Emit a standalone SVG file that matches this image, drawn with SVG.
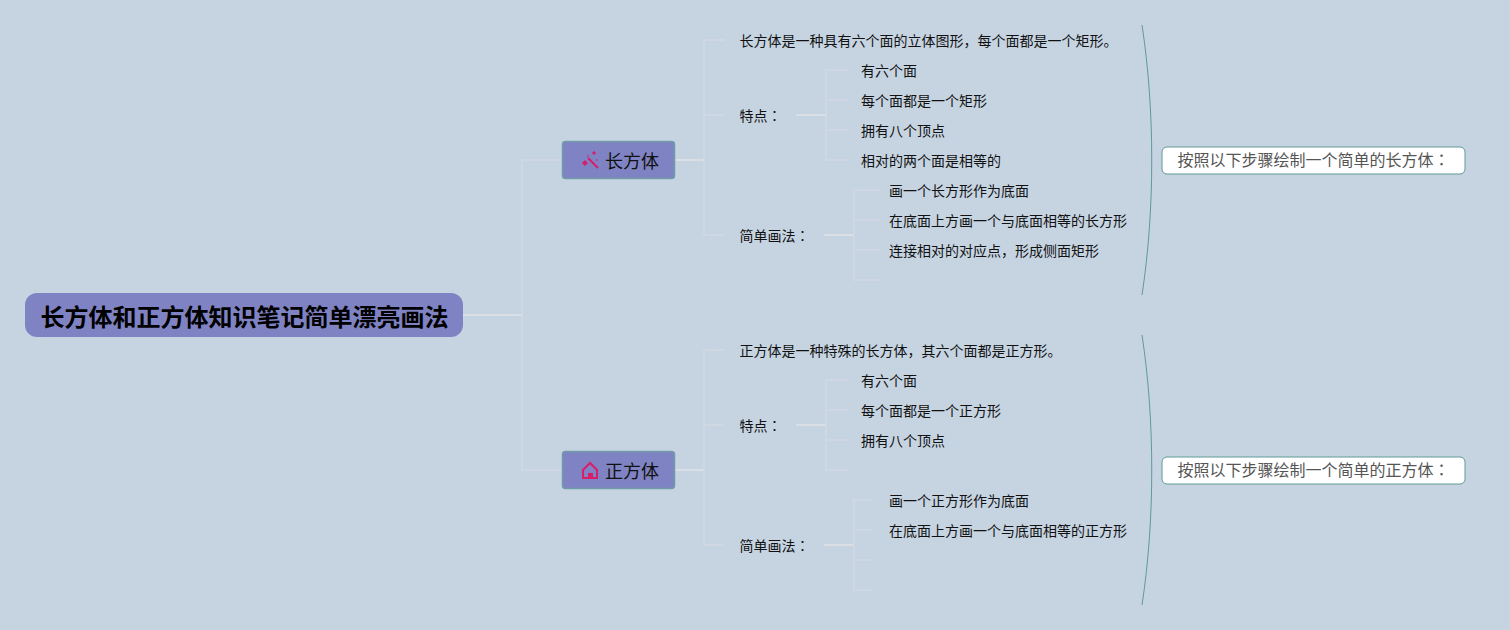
<svg xmlns="http://www.w3.org/2000/svg" width="1510" height="630" viewBox="0 0 1510 630">
<style>
text{font-family:"Noto Sans CJK SC","Noto Sans",sans-serif;fill:#111}
.colon{font-family:"Noto Sans CJK TC","Noto Sans",sans-serif}
.leaf{font-size:14px}
.branch{font-size:18px}
.root{font-size:24px;font-weight:700;fill:#000}
.note{font-size:16px;fill:#555}
.conn{fill:none;stroke:#d2d9e2;stroke-width:1.5}
.thick{fill:none;stroke:#dadfe6;stroke-width:2}
.brace{fill:none;stroke:#5f9a96;stroke-width:1}
.bnode{fill:#7f83c3;stroke:#6f9aa8;stroke-width:1.500}
.nbox{fill:#fff;stroke:#5f9a96;stroke-width:1}
.icon{fill:#d81e6a}
.iconl{fill:none;stroke:#d81e6a;stroke-width:2}
</style>
<rect width="1510" height="630" fill="#c6d4e2"/>
<g id="connectors">
<path class="thick" d="M463 315H522"/>
<path class="conn" d="M562 160H522V470H562"/>
<path class="thick" d="M675 160H704"/>
<path class="conn" d="M724 40H704V235H724M704 115H724"/>
<path class="thick" d="M796 115H826"/>
<path class="conn" d="M848 70H826V160H848M826 100H848M826 130H848"/>
<path class="thick" d="M824 235H854"/>
<path class="conn" d="M880 190H854V280H880M854 220H880M854 250H880"/>
<path class="thick" d="M675 470H704"/>
<path class="conn" d="M724 350H704V545H724M704 425H724"/>
<path class="thick" d="M796 425H826"/>
<path class="conn" d="M848 380H826V470H848M826 410H848M826 440H848"/>
<path class="thick" d="M824 545H854"/>
<path class="conn" d="M872 500H854V590H872M854 530H872M854 560H872"/>
<path class="brace" d="M1142 25C1155 110 1155 210 1142 295"/>
<path class="brace" d="M1142 335C1155 420 1155 520 1142 605"/>
</g>
<g id="root"><rect x="25" y="293" width="438" height="44" rx="12" fill="#7f83c3"/><text class="root" x="40.500" y="326">长方体和正方体知识笔记简单漂亮画法</text></g>
<g id="cuboid"><rect class="bnode" x="562.500" y="141.500" width="112" height="37" rx="3"/>
<path class="iconl" d="M588 158L598 168"/><path class="icon" d="M594 151l2 2-2 2-2-2zM585 160l3 3-3 3-3-3zM588 155l1 1-1 1-1-1zM597 159l1 1-1 1-1-1z"/>
<text class="branch" x="605" y="167.500">长方体</text></g>
<g id="cube"><rect class="bnode" x="562.500" y="451.500" width="112" height="37" rx="3"/>
<path class="iconl" d="M583 470L590 463L597 470V478H583Z"/><rect class="icon" x="588" y="473" width="5" height="5"/>
<text class="branch" x="605" y="477.500">正方体</text></g>
<g id="cuboid-def"><text class="leaf" x="739.500" y="46">长方体是一种具有六个面的立体图形，每个面都是一个矩形。</text></g>
<g id="cuboid-features"><text class="leaf" x="739.500" y="121">特点<tspan class="colon">：</tspan></text></g>
<g id="cuboid-f1"><text class="leaf" x="861" y="76">有六个面</text></g>
<g id="cuboid-f2"><text class="leaf" x="861" y="106">每个面都是一个矩形</text></g>
<g id="cuboid-f3"><text class="leaf" x="861" y="136">拥有八个顶点</text></g>
<g id="cuboid-f4"><text class="leaf" x="861" y="166">相对的两个面是相等的</text></g>
<g id="cuboid-draw"><text class="leaf" x="739.500" y="241">简单画法<tspan class="colon">：</tspan></text></g>
<g id="cuboid-d1"><text class="leaf" x="889" y="196">画一个长方形作为底面</text></g>
<g id="cuboid-d2"><text class="leaf" x="889" y="226">在底面上方画一个与底面相等的长方形</text></g>
<g id="cuboid-d3"><text class="leaf" x="889" y="256">连接相对的对应点，形成侧面矩形</text></g>
<g id="cube-def"><text class="leaf" x="739.500" y="356">正方体是一种特殊的长方体，其六个面都是正方形。</text></g>
<g id="cube-features"><text class="leaf" x="739.500" y="431">特点<tspan class="colon">：</tspan></text></g>
<g id="cube-f1"><text class="leaf" x="861" y="386">有六个面</text></g>
<g id="cube-f2"><text class="leaf" x="861" y="416">每个面都是一个正方形</text></g>
<g id="cube-f3"><text class="leaf" x="861" y="446">拥有八个顶点</text></g>
<g id="cube-draw"><text class="leaf" x="739.500" y="551">简单画法<tspan class="colon">：</tspan></text></g>
<g id="cube-d1"><text class="leaf" x="889" y="506">画一个正方形作为底面</text></g>
<g id="cube-d2"><text class="leaf" x="889" y="536">在底面上方画一个与底面相等的正方形</text></g>
<g id="cuboid-note"><rect class="nbox" x="1162" y="147" width="303" height="27" rx="5"/><text class="note" x="1177.500" y="166">按照以下步骤绘制一个简单的长方体<tspan class="colon">：</tspan></text></g>
<g id="cube-note"><rect class="nbox" x="1162" y="457" width="303" height="27" rx="5"/><text class="note" x="1177.500" y="476">按照以下步骤绘制一个简单的正方体<tspan class="colon">：</tspan></text></g>
</svg>
